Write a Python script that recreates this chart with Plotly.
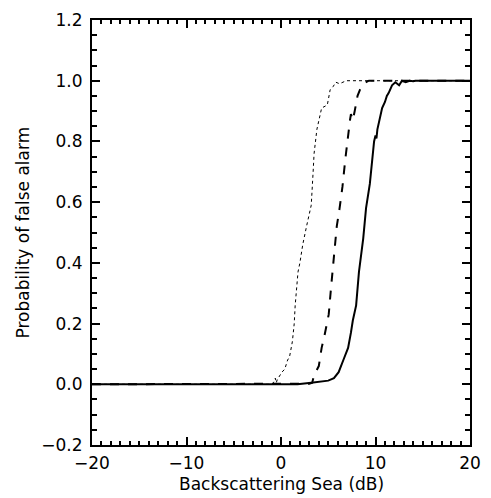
import plotly.graph_objects as go

dotted_x = [-20, -1.0, -0.8, -0.6, -0.5, -0.4, 0.1, 0.4, 0.7, 0.9, 1.2, 1.4, 1.5, 1.8, 2.0, 2.3, 2.7, 3.2, 3.4, 3.5, 3.8, 4.1, 4.3, 4.9, 5.2, 5.5, 5.8, 6.2, 6.9, 20]
dotted_y = [0, 0, 0.005, 0.02, 0.005, 0.015, 0.04, 0.05, 0.08, 0.09, 0.14, 0.2, 0.26, 0.37, 0.4, 0.46, 0.52, 0.59, 0.7, 0.76, 0.84, 0.88, 0.91, 0.92, 0.97, 0.98, 0.995, 0.99, 1.0, 1.0]

dashed_x = [-20, 2.2, 3.0, 3.3, 3.5, 4.0, 4.3, 4.6, 5.05, 5.3, 5.6, 5.9, 6.2, 6.5, 6.8, 7.1, 7.3, 7.4, 7.6, 7.8, 8.1, 8.35, 8.7, 9.0, 9.3, 20]
dashed_y = [0, 0, 0.002, 0.005, 0.03, 0.06, 0.12, 0.16, 0.23, 0.32, 0.42, 0.52, 0.58, 0.65, 0.74, 0.83, 0.87, 0.89, 0.87, 0.9, 0.95, 0.97, 0.99, 0.995, 1.0, 1.0]

solid_x = [-20, 1.75, 3.2, 4.3, 5.0, 5.6, 6.1, 6.6, 7.1, 7.4, 7.6, 7.95, 8.1, 8.25, 8.7, 9.0, 9.4, 9.7, 9.85, 10.0, 10.1, 10.2, 10.5, 10.7, 11.0, 11.2, 11.4, 11.75, 12.1, 12.5, 12.8, 13.2, 13.6, 14.0, 14.2, 20]
solid_y = [0, 0, 0.005, 0.01, 0.012, 0.02, 0.04, 0.08, 0.12, 0.17, 0.21, 0.26, 0.33, 0.37, 0.48, 0.58, 0.66, 0.76, 0.8, 0.82, 0.81, 0.84, 0.88, 0.91, 0.93, 0.95, 0.96, 0.985, 0.995, 0.985, 1.0, 0.995, 1.0, 0.998, 1.0, 1.0]

x_ticks = [-20, -10, 0, 10, 20]
x_labels = ["\u221220", "\u221210", "0", "10", "20"]
y_ticks = [-0.2, 0.0, 0.2, 0.4, 0.6, 0.8, 1.0, 1.2]
y_labels = ["\u22120.2", "0.0", "0.2", "0.4", "0.6", "0.8", "1.0", "1.2"]
x_title = "Backscattering Sea (dB)"
y_title = "Probability of false alarm"

fig = go.Figure()
fig.add_trace(go.Scatter(x=dotted_x, y=dotted_y, mode="lines",
                         line=dict(color="black", width=1, dash="dot")))
fig.add_trace(go.Scatter(x=dashed_x, y=dashed_y, mode="lines",
                         line=dict(color="black", width=2, dash="dash")))
fig.add_trace(go.Scatter(x=solid_x, y=solid_y, mode="lines",
                         line=dict(color="black", width=2)))

font = dict(family="DejaVu Sans", size=17, color="black")
fig.update_layout(
    width=491, height=498,
    margin=dict(l=92, r=11, t=10, b=53),
    paper_bgcolor="white", plot_bgcolor="white",
    showlegend=False,
    font=font,
    annotations=[
        dict(text=x_title, xref="paper", yref="paper", x=0.5, y=0,
             xanchor="center", yanchor="top", yshift=-27, showarrow=False, font=font),
        dict(text=y_title, xref="paper", yref="paper", x=0, y=0.5,
             xanchor="center", yanchor="middle", xshift=-70, textangle=-90,
             showarrow=False, font=font),
    ],
)
fig.update_xaxes(
    range=[-20, 20], tickvals=x_ticks, ticktext=x_labels,
    ticks="inside", ticklen=8, tickwidth=1.5, tickcolor="black",
    showline=True, linecolor="black", linewidth=2, mirror="allticks",
    showgrid=False, zeroline=False, ticklabelstandoff=2,
    minor=dict(dtick=1, tick0=0, ticks="inside", ticklen=4, tickwidth=1.5, tickcolor="black", showgrid=False),
)
fig.update_yaxes(
    range=[-0.2, 1.2], tickvals=y_ticks, ticktext=y_labels,
    ticks="inside", ticklen=8, tickwidth=1.5, tickcolor="black",
    showline=True, linecolor="black", linewidth=2, mirror="allticks",
    showgrid=False, zeroline=False, ticklabelstandoff=4,
    minor=dict(dtick=0.05, tick0=0, ticks="inside", ticklen=5, tickwidth=1.5, tickcolor="black", showgrid=False),
)
fig.write_html("out.html", config={"displayModeBar": False},
               post_script="document.body.style.margin='0px';document.body.style.overflow='hidden';")
